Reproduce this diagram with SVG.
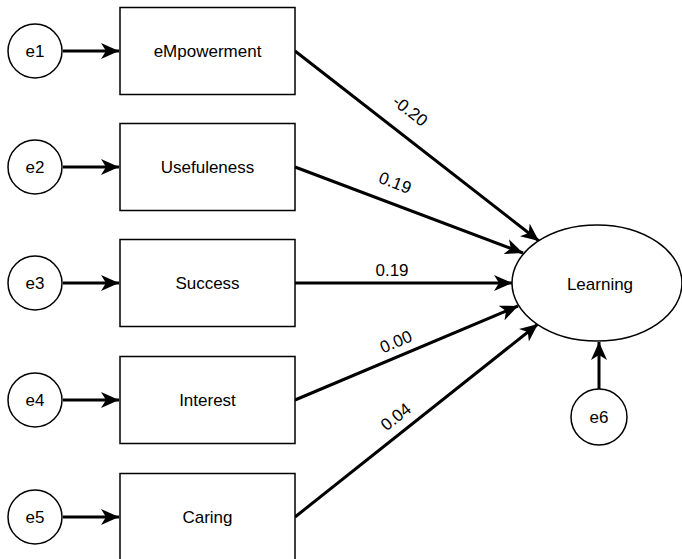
<svg xmlns="http://www.w3.org/2000/svg" width="682" height="559" viewBox="0 0 682 559">
<style>
text{font-family:"Liberation Sans",Arial,sans-serif;font-size:17px;fill:#000;text-anchor:middle;dominant-baseline:central}
.box{fill:#fff;stroke:#000;stroke-width:1.5}
.err{fill:#fff;stroke:#000;stroke-width:1.5}
.con{fill:none;stroke:#000;stroke-width:3}
</style>
<defs>
<marker id="ah" markerUnits="userSpaceOnUse" markerWidth="20" markerHeight="16" refX="18" refY="8" orient="auto" viewBox="0 0 20 16">
<path d="M0,0 L18,8 L0,16 L5,8 z" fill="#000"/>
</marker>
</defs>
<rect width="682" height="559" fill="#fff"/>
<g id="connectors">
<line class="con" x1="63" y1="51" x2="119" y2="51" marker-end="url(#ah)"/>
<line class="con" x1="63" y1="167" x2="119" y2="167" marker-end="url(#ah)"/>
<line class="con" x1="63" y1="283" x2="119" y2="283" marker-end="url(#ah)"/>
<line class="con" x1="63" y1="400" x2="119" y2="400" marker-end="url(#ah)"/>
<line class="con" x1="63" y1="517" x2="119" y2="517" marker-end="url(#ah)"/>
<line class="con" x1="295" y1="51" x2="539" y2="241" marker-end="url(#ah)"/>
<line class="con" x1="295" y1="167" x2="523" y2="253" marker-end="url(#ah)"/>
<line class="con" x1="295" y1="283" x2="512" y2="283" marker-end="url(#ah)"/>
<line class="con" x1="295" y1="400" x2="518" y2="306" marker-end="url(#ah)"/>
<line class="con" x1="295" y1="517" x2="538" y2="324" marker-end="url(#ah)"/>
<line class="con" x1="599" y1="389" x2="599" y2="342" marker-end="url(#ah)"/>
<text transform="translate(410,111) rotate(38)">-0.20</text>
<text transform="translate(395,183) rotate(21)">0.19</text>
<text x="392" y="270">0.19</text>
<text transform="translate(396,342) rotate(-23)">0.00</text>
<text transform="translate(396,417) rotate(-38.6)">0.04</text>
</g>
<g id="e1"><circle class="err" cx="35" cy="51" r="27"/><text x="35" y="51">e1</text></g>
<g id="e2"><circle class="err" cx="35" cy="167" r="27"/><text x="35" y="167">e2</text></g>
<g id="e3"><circle class="err" cx="35" cy="283" r="27"/><text x="35" y="283">e3</text></g>
<g id="e4"><circle class="err" cx="35" cy="400" r="27"/><text x="35" y="400">e4</text></g>
<g id="e5"><circle class="err" cx="35" cy="517" r="27"/><text x="35" y="517">e5</text></g>
<g id="empowerment"><rect class="box" x="120" y="7.5" width="175" height="87"/><text x="207.5" y="51">eMpowerment</text></g>
<g id="usefulness"><rect class="box" x="120" y="123.5" width="175" height="87"/><text x="207.5" y="167">Usefuleness</text></g>
<g id="success"><rect class="box" x="120" y="239.5" width="175" height="87"/><text x="207.5" y="283">Success</text></g>
<g id="interest"><rect class="box" x="120" y="356.5" width="175" height="87"/><text x="207.5" y="400">Interest</text></g>
<g id="caring"><rect class="box" x="120" y="473.5" width="175" height="87"/><text x="207.5" y="517">Caring</text></g>
<g id="learning"><ellipse class="err" cx="597" cy="283" rx="85" ry="58"/><text x="600" y="284">Learning</text></g>
<g id="e6"><circle class="err" cx="599" cy="417" r="28"/><text x="599" y="417">e6</text></g>
</svg>
